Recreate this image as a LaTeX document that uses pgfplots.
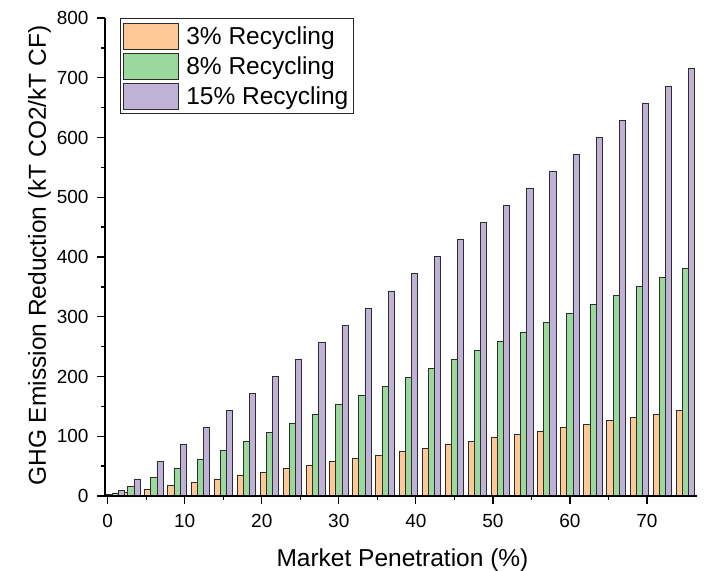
\documentclass[border=0pt]{standalone}
\usepackage{pgfplots}
\usepackage{pgfplotstable}
\pgfplotsset{compat=1.18}
\usepackage{fontspec}
\setmainfont{Liberation Sans}

\definecolor{barorange}{RGB}{254,201,150}
\definecolor{bargreen}{RGB}{155,216,156}
\definecolor{barpurple}{RGB}{192,177,215}
\definecolor{baredge}{RGB}{45,45,45}

% Market penetration (%) vs. GHG emission reduction for three recycling rates
\pgfplotstableread{
x   r3     r8     r15
1   1.9    5.1    9.5
3   5.7    15.3   28.6
6   11.4   30.5   57.2
9   17.2   45.8   85.8
12  22.9   61.0   114.4
15  28.6   76.3   143.0
18  34.3   91.5   171.6
21  40.0   106.8  200.2
24  45.8   122.0  228.8
27  51.5   137.3  257.4
30  57.2   152.6  286.0
33  62.9   167.8  314.6
36  68.6   183.1  343.2
39  74.4   198.3  371.8
42  80.1   213.6  400.4
45  85.8   228.8  429.0
48  91.5   244.1  457.6
51  97.3   259.3  486.2
54  103.0  274.6  514.8
57  108.7  289.8  543.4
60  114.4  305.1  572.0
63  120.1  320.4  600.6
66  125.9  335.6  629.2
69  131.6  350.9  657.8
72  137.3  366.1  686.4
75  143.0  381.4  715.1
}\datatable

\begin{document}
\begin{tikzpicture}
\useasboundingbox (0,0) rectangle (716pt,571pt);
\begin{axis}[
  at={(105pt,75pt)}, anchor=south west,
  scale only axis, width=592pt, height=478pt,
  xmin=-0.35, xmax=76.5, ymin=0, ymax=800,
  axis x line*=bottom, axis y line*=left,
  axis line style={line width=1.3pt, black},
  axis on top,
  xtick={0,10,...,70}, ytick={0,100,...,800},
  minor x tick num=1, minor y tick num=1,
  tick align=outside, major tick length=8pt, minor tick length=4pt,
  every tick/.style={black, line width=1.3pt},
  tick label style={font=\fontsize{19}{19}\selectfont},
  xticklabel style={yshift=-7pt},
  yticklabel style={xshift=-5pt},
  /pgf/number format/assume math mode=true,
  label style={font=\fontsize{24.5}{24.5}\selectfont},
  xlabel={Market Penetration (\%)},
  ylabel={GHG Emission Reduction (kT CO2/kT CF)},
  xlabel style={at={(axis description cs:0.5025,-0.1485)}, anchor=base},
  ylabel style={at={(axis description cs:-0.0997,0.503)}, anchor=base},
  legend cell align=left,
  legend image code/.code={%
    \draw[#1, draw=baredge, line width=0.9pt] (0pt,-13pt) rectangle (55pt,13pt);},
  legend style={
    at={(axis description cs:0.0253,1)}, anchor=north west,
    draw=black!85, line width=0.9pt, fill=white,
    font=\fontsize{24.5}{24.5}\selectfont,
    inner xsep=3pt, inner ysep=2.7pt, row sep=0pt,
    nodes={inner xsep=2.5pt, inner ysep=0pt, text height=23.6pt, text depth=6.4pt},
    /tikz/every odd column/.append style={column sep=4.5pt},
  },
]
\addplot[ybar, bar width=0.8, bar shift=-0.8, fill=barorange, draw=baredge, line width=0.75pt]
  table[x=x, y=r3] {\datatable};
\addplot[ybar, bar width=0.8, bar shift=0, fill=bargreen, draw=baredge, line width=0.75pt]
  table[x=x, y=r8] {\datatable};
\addplot[ybar, bar width=0.8, bar shift=0.8, fill=barpurple, draw=baredge, line width=0.75pt]
  table[x=x, y=r15] {\datatable};
\legend{3\% Recycling, 8\% Recycling, 15\% Recycling}
\end{axis}
\end{tikzpicture}
\end{document}
